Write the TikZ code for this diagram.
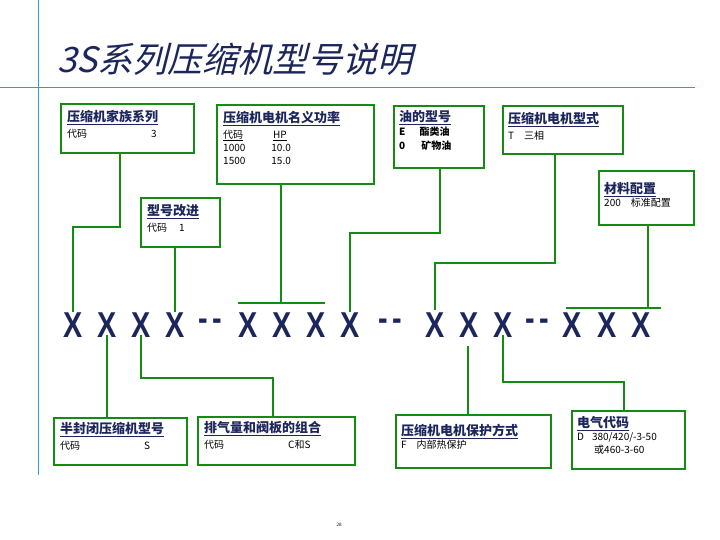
\documentclass[tikz,border=0pt]{standalone}
\usepackage{fontspec}
\setmainfont{Liberation Serif}
\newfontfamily\cjk{Noto Sans CJK SC}
\newfontfamily\cjkit[FakeSlant=0.25]{Noto Sans CJK SC}
\newfontfamily\xfont{Liberation Sans}
\definecolor{navy}{RGB}{28,38,92}
\definecolor{lgreen}{RGB}{20,140,20}
\definecolor{lblue}{RGB}{40,160,210}
\begin{document}
\begin{tikzpicture}
    [x=1pt,y=-1pt,
    box/.style={draw=lgreen,line width=2pt,anchor=north west,inner sep=0pt},
    txt/.style={anchor=north west,align=left,inner sep=0pt,font=\cjk\fontsize{10}{13}\selectfont},
    link/.style={lgreen,line width=1.8pt},
    letter/.style={font=\xfont\bfseries\fontsize{36}{36}\selectfont,text=navy,inner sep=0pt}
    ]
    \useasboundingbox (0,0) rectangle (720,540);
    \newcommand{\ttl}[1]{{\fontsize{13}{16}\selectfont\bfseries\color{navy}\underline{#1}}}
    % frame lines and title
    \draw [lblue] (38,0) -- (38,475);
    \draw [lblue] (0,87) -- (695,87);
    \node (title) at (57,76) [anchor=south west,inner sep=0pt,text=navy,font=\cjkit\fontsize{35}{36}\selectfont] {3S系列压缩机型号说明};
    % model code
    \foreach \n/\xx/\s in {1/73/X,2/107/X,3/141/X,4/175/X,5/210/-\,-,6/248/X,7/282/X,8/316/X,9/350/X,10/390/-\,-,11/435/X,12/469/X,13/503/X,14/537/-\,-,15/572/X,16/607/X,17/641/X}
      \node (x\n) at (\xx,325) [letter] {\scalebox{0.8}[1]{\s}};
    % upper boxes
    \node (fam) at (60,103) [box,minimum width=133pt,minimum height=49pt] {};
    \node (famt) at ([shift={(7,7)}]fam.north west) [txt] {\ttl{压缩机家族系列}\\[3pt]代码\hspace{64pt}3};
    \node (pow) at (216,104) [box,minimum width=157pt,minimum height=79pt] {};
    \node (powt) at ([shift={(7,7)}]pow.north west) [txt] {\ttl{压缩机电机名义功率}\\[3pt]\underline{代码}\hspace{30pt}\underline{HP}\\1000\hspace{26pt}10.0\\1500\hspace{26pt}15.0};
    \node (oil) at (393,105) [box,minimum width=90pt,minimum height=62pt] {};
    \node (oilt) at ([shift={(6,5)}]oil.north west) [txt] {\ttl{油的型号}\\[1pt]\textbf{E\hspace{14pt}酯类油}\\[1pt]\textbf{0\hspace{16pt}矿物油}};
    \node (mot) at (502,105) [box,minimum width=120pt,minimum height=48pt] {};
    \node (mott) at ([shift={(6,7)}]mot.north west) [txt] {\ttl{压缩机电机型式}\\[3pt]T\hspace{10pt}三相};
    \node (mat) at (598,170) [box,minimum width=95pt,minimum height=54pt] {};
    \node (matt) at ([shift={(6,12)}]mat.north west) [txt] {\ttl{材料配置}\\200\hspace{10pt}标准配置};
    \node (imp) at (140,197) [box,minimum width=79pt,minimum height=49pt] {};
    \node (impt) at ([shift={(7,7)}]imp.north west) [txt] {\ttl{型号改进}\\[3pt]代码\hspace{12pt}1};
    % lower boxes
    \node (semi) at (53,417) [box,minimum width=133pt,minimum height=47pt] {};
    \node (semit) at ([shift={(7,5)}]semi.north west) [txt] {\ttl{半封闭压缩机型号}\\[3pt]代码\hspace{64pt}S};
    \node (dis) at (197,416) [box,minimum width=157pt,minimum height=48pt] {};
    \node (dist) at ([shift={(7,5)}]dis.north west) [txt] {\ttl{排气量和阀板的组合}\\[3pt]代码\hspace{64pt}C和S};
    \node (prot) at (395,414) [box,minimum width=155pt,minimum height=53pt] {};
    \node (prott) at ([shift={(6,10)}]prot.north west) [txt] {\ttl{压缩机电机保护方式}\\F\hspace{10pt}内部热保护};
    \node (ele) at (571,410) [box,minimum width=113pt,minimum height=58pt] {};
    \node (elet) at ([shift={(6,6)}]ele.north west) [txt] {\ttl{电气代码}\\D\hspace{8pt}380/420/-3-50\\\hspace{17pt}或460-3-60};
    % connectors
    \draw [link] (fam.south west -| 120,0) -- (120,227) -| (x1.north);
    \draw [link] (x4.north |- imp.south) -- (x4.north);
    \draw [link] (pow.south -| 281,0) -- (281,303);
    \draw [link] (238,303) -- (325,303);
    \draw [link] (oil.south -| 440,0) -- (440,233) -| (x9.north);
    \draw [link] (mot.south -| 555,0) -- (555,263) -| ([yshift=2pt]x11.north);
    \draw [link] (mat.south -| 648,0) -- (648,308);
    \draw [link] (566,308) -- (661,308);
    \draw [link] ([yshift=3pt]x2.south) -- (semi.north -| x2);
    \draw [link] ([yshift=3pt]x3.south) |- (273,378) -- (273,416);
    \draw [link] (468,346) -- (prot.north -| 468,0);
    \draw [link] ([yshift=3pt]x13.south) |- (624,382) -- (ele.north -| 624,0);
    \node (page) at (339,525) [font=\fontsize{5}{5}\selectfont] {28};
\end{tikzpicture}
\end{document}
